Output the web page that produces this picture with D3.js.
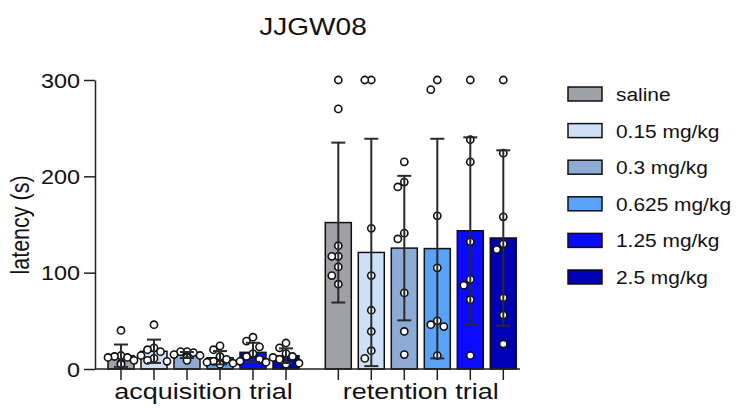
<!DOCTYPE html>
<html>
<head>
<meta charset="utf-8">
<script src="https://cdn.jsdelivr.net/npm/d3@7"></script>
<style>
  body { margin: 0; background: #fff; }
  text { font-family: "Liberation Sans", Arial, sans-serif; fill: #111; }
</style>
</head>
<body>
<svg id="chart" width="736" height="408"></svg>
<script>
// ---- data ----
const trials = ["acquisition trial", "retention trial"];
const doses = ["saline", "0.15 mg/kg", "0.3 mg/kg", "0.625 mg/kg", "1.25 mg/kg", "2.5 mg/kg"];
const doseColors = ["#a0a0a7", "#cde0f7", "#8dabd5", "#5aa2f7", "#0a0aff", "#0000b5"];

// group means and standard deviations (s)
const acqMean = [13.8, 18.4, 14.5, 11.7, 17.3, 13.8];
const acqSD   = [11.6, 12.1, 3.1, 6.9, 9.9, 7.6];
const retMean = [152, 121, 125.5, 125, 143.5, 136];
const retSD   = [83, 118, 75, 114, 97, 91];

// individual animals (s)
const acqPoints = [
  [40, 14, 13, 12, 12, 9, 6, 5],
  [46, 22, 20, 18, 14, 11, 9, 8],
  [18, 18, 17, 15, 14, 13, 12, 9],
  [24, 20, 13, 10, 8, 7, 6, 5],
  [33, 29, 23, 16, 13, 10, 8, 7],
  [27, 22, 16, 13, 12, 10, 6, 5]
];
const retPoints = [
  [300, 270, 128, 117, 117, 106, 97, 88],
  [300, 300, 146, 97, 61, 39, 19, 11],
  [215, 194, 189, 141, 135, 79, 39, 15],
  [300, 290, 159, 105, 50, 46, 44, 14],
  [300, 238, 215, 132, 93, 87, 72, 14],
  [300, 224, 158, 130, 124, 74, 56, 26]
];
const yTicks = [0, 100, 200, 300];

const title = "JJGW08";
const yLabel = "latency (s)";

// ---- layout ----
const svg = d3.select("#chart");
const SX = 1.2; // horizontal text stretch

const y = d3.scaleLinear().domain([0, 300]).range([369, 80]);
const xGroup = d3.scaleBand().domain(trials).range([104.5, 519.8]).paddingInner(0.0888);
const xDose = d3.scaleBand().domain(doses).range([0, xGroup.bandwidth()])
  .paddingInner(0.212).paddingOuter(0.106);

const groups = trials.map((t, ti) => ({
  trial: t,
  mean: ti === 0 ? acqMean : retMean,
  sd: ti === 0 ? acqSD : retSD,
  pts: ti === 0 ? acqPoints : retPoints
}));

const cells = [];
groups.forEach(g => {
  doses.forEach((d, di) => {
    cells.push({
      trial: g.trial, dose: d, di,
      mean: g.mean[di], sd: g.sd[di], pts: g.pts[di],
      cx: xGroup(g.trial) + xDose(d) + xDose.bandwidth() / 2
    });
  });
});

function stretchedText(parent, x, yy, str, size, anchor, sx = SX) {
  return parent.append("text")
    .attr("transform", `translate(${x},${yy}) scale(${sx},1)`)
    .attr("text-anchor", anchor)
    .attr("font-size", size)
    .text(str);
}

// title
stretchedText(svg, 313, 35, title, 23, "middle", 1.22);

// bars
svg.append("g").selectAll("rect").data(cells).join("rect")
  .attr("x", d => d.cx - xDose.bandwidth() / 2)
  .attr("y", d => y(d.mean))
  .attr("width", xDose.bandwidth())
  .attr("height", d => y(0) - y(d.mean))
  .attr("fill", d => doseColors[d.di])
  .attr("stroke", "#111")
  .attr("stroke-width", 1.5);

// scatter points, spread sideways where they would overlap
const R = 3.6;
const pointData = [];
cells.forEach(c => {
  const placed = [];
  const order = c.pts.slice().sort((a, b) => b - a);
  const offs = [0, -6.5, 6.5, -13, 13];
  order.forEach(v => {
    const py = y(v);
    let dx = 0;
    for (const o of offs) {
      const hit = placed.some(p => Math.abs(p.py - py) < 10.5 && Math.abs(p.dx - o) < 6);
      if (!hit) { dx = o; break; }
    }
    placed.push({ py, dx });
    pointData.push({ x: c.cx + dx, y: py });
  });
});
svg.append("g").selectAll("circle").data(pointData).join("circle")
  .attr("cx", d => d.x).attr("cy", d => d.y).attr("r", R)
  .attr("fill", "#fff").attr("stroke", "#111").attr("stroke-width", 1.6);

// error bars (mean ± SD)
const eb = svg.append("g").attr("stroke", "#2a2a2a").attr("stroke-width", 2);
cells.forEach(c => {
  const top = y(c.mean + c.sd), bot = y(Math.max(0, c.mean - c.sd));
  eb.append("line").attr("x1", c.cx).attr("x2", c.cx).attr("y1", top).attr("y2", bot);
  eb.append("line").attr("x1", c.cx - 7).attr("x2", c.cx + 7).attr("y1", top).attr("y2", top);
  eb.append("line").attr("x1", c.cx - 7).attr("x2", c.cx + 7).attr("y1", bot).attr("y2", bot);
});

// y axis
const yAxis = svg.append("g").attr("transform", "translate(95,0)")
  .call(d3.axisLeft(y).tickValues(yTicks).tickSize(11).tickSizeOuter(0).tickPadding(4));
yAxis.select(".domain").attr("stroke", "#222").attr("stroke-width", 1.5);
yAxis.selectAll(".tick line").attr("stroke", "#222").attr("stroke-width", 1.5);
yAxis.selectAll(".tick text")
  .attr("x", null).attr("dy", null)
  .attr("transform", "translate(-15,7) scale(1.2,1)")
  .attr("font-size", 19.5).attr("font-family", null)
  .style("fill", "#111");

// y label
svg.append("text")
  .attr("transform", `translate(29,225) rotate(-90) scale(1,${SX})`)
  .attr("text-anchor", "middle")
  .attr("font-size", 21.5)
  .text(yLabel);

// x axis
const xa = svg.append("g").attr("stroke", "#222").attr("stroke-width", 1.5);
xa.append("line").attr("x1", 95).attr("x2", 520).attr("y1", y(0)).attr("y2", y(0));
xa.selectAll("line.tk").data(cells).join("line").attr("class", "tk")
  .attr("x1", d => d.cx).attr("x2", d => d.cx)
  .attr("y1", y(0)).attr("y2", y(0) + 11);

trials.forEach(t => {
  stretchedText(svg, xGroup(t) + xGroup.bandwidth() / 2, 399, t, 22.5, "middle");
});

// legend
const lg = svg.append("g");
doses.forEach((d, i) => {
  const cy = 94 + i * 36.6;
  lg.append("rect").attr("x", 568).attr("y", cy - 7).attr("width", 34).attr("height", 14)
    .attr("fill", doseColors[i]).attr("stroke", "#111").attr("stroke-width", 1.5);
  stretchedText(lg, 616, cy + 7, d, 19, "start", 1.1);
});
</script>
</body>
</html>
